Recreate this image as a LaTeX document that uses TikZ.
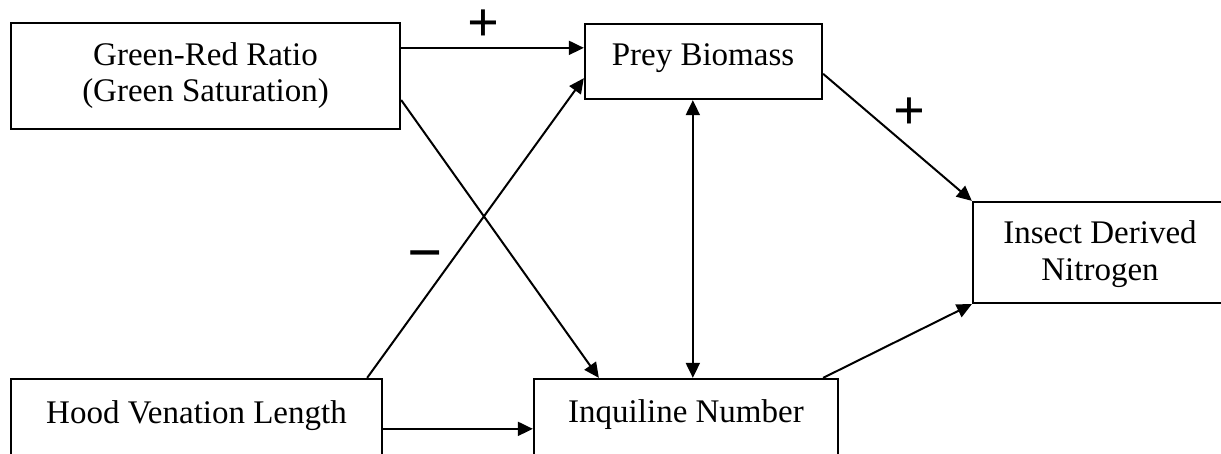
\documentclass[tikz,border=0pt]{standalone}
\usepackage{fontspec}
\setmainfont{Liberation Serif}
\usetikzlibrary{arrows.meta,calc}
\begin{document}
\begin{tikzpicture}[x=1pt,y=-1pt,
  box/.style={draw,line width=2.3pt,inner sep=0pt,rectangle},
  lbl/.style={font=\fontsize{33}{37}\selectfont,anchor=base,inner sep=0pt},
  tipA/.tip={Triangle[length=15pt,width=14pt]},
  arr/.style={line width=2pt,-tipA},
  biarr/.style={line width=2pt,tipA-tipA},
  sign/.style={inner sep=0pt,anchor=base}]
\useasboundingbox (0,0) rectangle (1221,453);
\fill[white] (0,0) rectangle (1221,453);
\clip (0,0) rectangle (1221,453);
% boxes
\node[box,minimum width=389pt,minimum height=106pt] (gr) at (205.5,76) {};
\node[box,minimum width=237pt,minimum height=75pt] (prey) at (703.5,61.5) {};
\node[box,minimum width=267pt,minimum height=101pt] (ins) at (1106.5,252.5) {};
\node[box,minimum width=371pt,minimum height=96pt] (hood) at (196.5,427) {};
\node[box,minimum width=304pt,minimum height=96pt] (inq) at (686,427) {};
% texts
\node[lbl] (grt1) at (205.5,65) {Green-Red Ratio};
\node[lbl] (grt2) at (205.5,101) {(Green Saturation)};
\node[lbl] (preyt) at (703,65) {Prey Biomass};
\node[lbl] (inst1) at (1100,243) {Insect Derived};
\node[lbl] (inst2) at (1100,280) {Nitrogen};
\node[lbl] (hoodt) at (196.5,423) {Hood Venation Length};
\node[lbl] (inqt) at (686,422) {Inquiline Number};
% signs
\node[sign,font=\fontsize{56}{56}\selectfont\bfseries] (plusA) at (483,41) {+};
\node[sign,font=\fontsize{56}{56}\selectfont\bfseries] (plusB) at (909,129) {+};
\node[sign,font=\fontsize{62}{62}\selectfont\bfseries] (minusA) at (425,273) {\symbol{"2212}};
% connectors
\coordinate (p1) at ($(gr.north east)+(0,26)$);
\draw[arr] (p1) -- (p1 -| prey.west);
\draw[arr] ($(gr.east)+(0,24)$) -- ($(inq.north west)+(66,0)$);
\draw[arr] ($(hood.north east)+(-16,0)$) -- ($(prey.south west)+(0,-22)$);
\coordinate (p4) at ($(hood.north east)+(0,51)$);
\draw[arr] (p4) -- (p4 -| inq.west);
\coordinate (p5) at ($(prey.south west)+(109,0)$);
\draw[biarr] (p5) -- (p5 |- inq.north);
\draw[arr] ($(prey.north east)+(0,51)$) -- (ins.north west);
\draw[arr] ($(inq.north east)+(-16,0)$) -- (ins.south west);
\end{tikzpicture}
\end{document}
